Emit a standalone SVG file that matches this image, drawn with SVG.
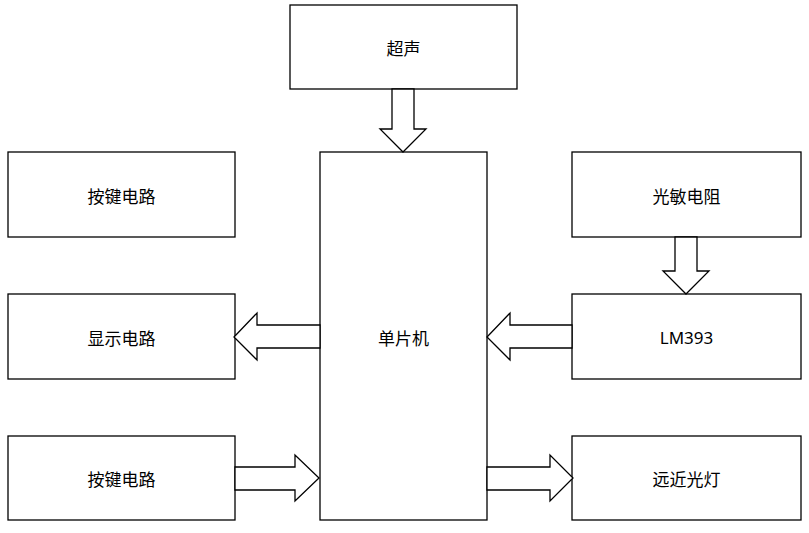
<svg xmlns="http://www.w3.org/2000/svg" width="809" height="533" viewBox="0 0 809 533">
<style>
.box{fill:#fff;stroke:#000;stroke-width:1.3}
.arr{fill:#fff;stroke:#000;stroke-width:1.3;stroke-linejoin:miter}
text{font-family:"Noto Sans CJK SC","Noto Sans",sans-serif;font-size:17px;fill:#000;text-anchor:middle;dominant-baseline:central}
</style>
<rect width="809" height="533" fill="#fff"/>
<g id="n-chaosheng"><rect class="box" x="290" y="5" width="227" height="84"/><text x="403.5" y="47">超声</text></g>
<g id="n-mcu"><rect class="box" x="320" y="152" width="167" height="368"/><text x="403.5" y="337">单片机</text></g>
<g id="n-key1"><rect class="box" x="8" y="152" width="227" height="85"/><text x="121.5" y="195">按键电路</text></g>
<g id="n-display"><rect class="box" x="8" y="294" width="227" height="85"/><text x="121.5" y="337">显示电路</text></g>
<g id="n-key2"><rect class="box" x="8" y="436" width="227" height="84"/><text x="121.5" y="478">按键电路</text></g>
<g id="n-ldr"><rect class="box" x="572" y="152" width="229" height="85"/><text x="686.5" y="195">光敏电阻</text></g>
<g id="n-lm393"><rect class="box" x="572" y="294" width="229" height="85"/><text x="686.5" y="337" style="font-family:'Noto Sans','Liberation Sans',sans-serif">LM393</text></g>
<g id="n-lamp"><rect class="box" x="572" y="436" width="229" height="84"/><text x="686.5" y="478">远近光灯</text></g>
<g id="connectors">
<polygon class="arr" points="392,89 414,89 414,129 426,129 403,152 380,129 392,129"/>
<polygon class="arr" points="675,237 697,237 697,271 709,271 686,294 663,271 675,271"/>
<polygon class="arr" points="320,325 257,325 257,313 234,337 257,360 257,348 320,348"/>
<polygon class="arr" points="572,325 510,325 510,313 487,337 510,360 510,348 572,348"/>
<polygon class="arr" points="235,467 295,467 295,455 319,478 295,501 295,490 235,490"/>
<polygon class="arr" points="487,467 550,467 550,455 573,478 550,501 550,490 487,490"/>
</g>
</svg>
